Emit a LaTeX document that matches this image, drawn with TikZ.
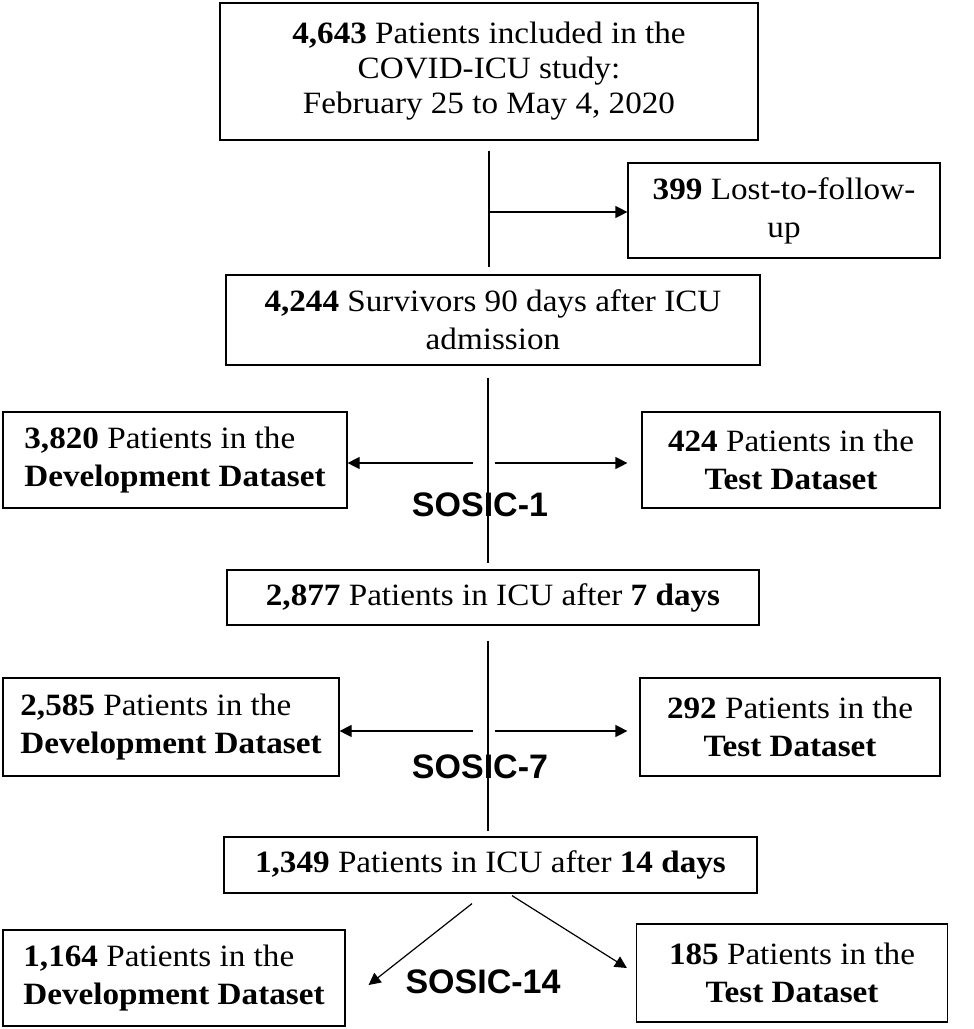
\documentclass[tikz,border=0pt]{standalone}
\usepackage{fontspec}
\setmainfont{Liberation Serif}[FakeStretch=1.07]
\newfontfamily\sosicfont{Liberation Sans}
\usetikzlibrary{arrows.meta}

\begin{document}
\begin{tikzpicture}[x=1pt,y=1pt,
    box/.style={draw,line width=1.2pt,align=center,inner sep=0pt,
      font=\fontsize{31}{38}\selectfont},
    lbox/.style={box,align=left},
    link/.style={line width=1.2pt},
    arr/.style={link,-{Triangle[length=12pt,width=12pt]}},
    sosic/.style={font=\sosicfont\bfseries\fontsize{34}{40}\selectfont}]
  \useasboundingbox (0,0) rectangle (974,-1029);
  % boxes
  \node[box,minimum width=538,minimum height=137,font=\fontsize{31}{35}\selectfont] (top) at (489,-71.5)
    {\textbf{4,643} Patients included in the\\COVID-ICU study:\\February 25 to May 4, 2020};
  \node[box,minimum width=312,minimum height=95] (lost) at (784,-210.5)
    {\textbf{399} Lost-to-follow-\\up};
  \node[box,minimum width=534,minimum height=90] (surv) at (493,-320)
    {\textbf{4,244} Survivors 90 days after ICU\\admission};
  \node[lbox,minimum width=344,minimum height=96] (dev1) at (175,-460)
    {\textbf{3,820} Patients in the\\\textbf{Development Dataset}};
  \node[box,minimum width=298,minimum height=96] (test1) at (791,-460)
    {\textbf{424} Patients in the\\\textbf{Test Dataset}};
  \node[box,minimum width=532,minimum height=55] (icu7) at (493,-597.5)
    {\textbf{2,877} Patients in ICU after \textbf{7 days}};
  \node[lbox,minimum width=336,minimum height=98] (dev2) at (171,-727)
    {\textbf{2,585} Patients in the\\\textbf{Development Dataset}};
  \node[box,minimum width=300,minimum height=98] (test2) at (790,-727)
    {\textbf{292} Patients in the\\\textbf{Test Dataset}};
  \node[box,minimum width=533,minimum height=56] (icu14) at (490.5,-865)
    {\textbf{1,349} Patients in ICU after \textbf{14 days}};
  \node[lbox,minimum width=342,minimum height=96] (dev3) at (174,-978)
    {\textbf{1,164} Patients in the\\\textbf{Development Dataset}};
  \node[box,minimum width=311,minimum height=98] (test3) at (792,-973)
    {\textbf{185} Patients in the\\\textbf{Test Dataset}};
  % labels
  \node[sosic] (s1lab) at (480,-505) {SOSIC-1};
  \node[sosic] (s7lab) at (480,-767) {SOSIC-7};
  \node[sosic] (s14lab) at (483,-982) {SOSIC-14};
  % split points
  \coordinate (j0) at (489,-212);
  \coordinate (j1) at (488,-463);
  \coordinate (j7) at (488,-731);
  % connectors
  \draw[link,shorten <=10pt,shorten >=7pt] (top.south -| j0) -- (surv.north -| j0);
  \draw[arr] (j0) -- (j0 -| lost.west);
  \draw[link,shorten <=12pt,shorten >=6pt] (surv.south -| j1) -- (icu7.north -| j1);
  \draw[arr] ([xshift=-15pt]j1) -- (j1 -| dev1.east);
  \draw[arr,shorten >=14pt] ([xshift=7pt]j1) -- (j1 -| test1.west);
  \draw[link,shorten <=15pt,shorten >=5pt] (icu7.south -| j7) -- (icu14.north -| j7);
  \draw[arr] ([xshift=-15pt]j7) -- (j7 -| dev2.east);
  \draw[arr,shorten >=12pt] ([xshift=7pt]j7) -- (j7 -| test2.west);
  \draw[arr] ([xshift=-18.5pt,yshift=-10pt]icu14.south) -- ([xshift=23pt,yshift=-7pt]dev3.east);
  \draw[arr] ([xshift=21.5pt,yshift=-2pt]icu14.south) -- ([xshift=-9pt,yshift=5pt]test3.west);
\end{tikzpicture}
\end{document}
